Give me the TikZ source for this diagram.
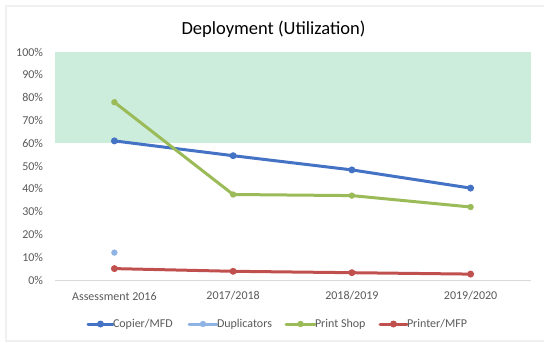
\documentclass[tikz,border=0pt]{standalone}
\usepackage{fontspec}
\setmainfont{Carlito}

\definecolor{c4472c4}{RGB}{68,114,196}
\definecolor{c8fb4e3}{RGB}{143,180,227}
\definecolor{c9bbb59}{RGB}{155,187,89}
\definecolor{cc0504d}{RGB}{192,80,77}
\definecolor{ccceddb}{RGB}{204,237,219}
\definecolor{c595959}{RGB}{89,89,89}
\definecolor{cd9d9d9}{RGB}{217,217,217}
\definecolor{cf0f0f0}{RGB}{240,240,240}

\begin{document}
\begin{tikzpicture}[y=1pt, x=1pt, yscale=-1, inner sep=0pt, outer sep=0pt,
  ticklabel/.style={text=c595959, font=\fontsize{12}{14}\selectfont},
  series/.style={line join=round, line cap=round, line width=3pt}]
\useasboundingbox (0,0) rectangle (544,343);
  % frame and target band
  \path[draw=cf0f0f0,line width=2pt] (6,6) rectangle (547,341);
  \path[fill=ccceddb] (55,52) rectangle (530.5,143.2);
  \path[draw=cd9d9d9,line width=1pt] (55,280) -- (530.5,280);
  \path (273.5,29) node (title) {\fontsize{18.5}{22}\selectfont Deployment (Utilization)};
  % value axis
  \path (43,52.0) node[left,ticklabel] (tick100) {100\%};
  \path (43,74.8) node[left,ticklabel] (tick90) {90\%};
  \path (43,97.6) node[left,ticklabel] (tick80) {80\%};
  \path (43,120.4) node[left,ticklabel] (tick70) {70\%};
  \path (43,143.2) node[left,ticklabel] (tick60) {60\%};
  \path (43,166.0) node[left,ticklabel] (tick50) {50\%};
  \path (43,188.8) node[left,ticklabel] (tick40) {40\%};
  \path (43,211.6) node[left,ticklabel] (tick30) {30\%};
  \path (43,234.4) node[left,ticklabel] (tick20) {20\%};
  \path (43,257.2) node[left,ticklabel] (tick10) {10\%};
  \path (43,280.0) node[left,ticklabel] (tick0) {0\%};
  % category axis
  \path (114.4,296) node[ticklabel] (cat2016) {Assessment 2016};
  \path (233.1,296) node[ticklabel] (cat2017) {2017/2018};
  \path (351.9,296) node[ticklabel] (cat2018) {2018/2019};
  \path (470.6,296) node[ticklabel] (cat2019) {2019/2020};
  % data points
  \coordinate (copier1) at (114.4,140.9);
  \coordinate (copier2) at (233.1,155.7);
  \coordinate (copier3) at (351.9,169.9);
  \coordinate (copier4) at (470.6,188.1);
  \coordinate (dup1) at (114.4,252.6);
  \coordinate (shop1) at (114.4,102.2);
  \coordinate (shop2) at (233.1,194.5);
  \coordinate (shop3) at (351.9,195.6);
  \coordinate (shop4) at (470.6,207.0);
  \coordinate (printer1) at (114.4,268.6);
  \coordinate (printer2) at (233.1,271.3);
  \coordinate (printer3) at (351.9,272.7);
  \coordinate (printer4) at (470.6,274.1);
  \path[draw=cc0504d,series] (printer1) -- (printer2) -- (printer3) -- (printer4);
  \path[fill=cc0504d] (printer1) circle (3.5) (printer2) circle (3.5)
    (printer3) circle (3.5) (printer4) circle (3.5);
  \path[draw=c4472c4,series] (copier1) -- (copier2) -- (copier3) -- (copier4);
  \path[fill=c4472c4] (copier1) circle (3.5) (copier2) circle (3.5)
    (copier3) circle (3.5) (copier4) circle (3.5);
  \path[draw=c9bbb59,series] (shop1) -- (shop2) -- (shop3) -- (shop4);
  \path[fill=c9bbb59] (shop1) circle (3.2) (shop2) circle (3.2)
    (shop3) circle (3.2) (shop4) circle (3.2);
  \path[fill=c8fb4e3] (dup1) circle (3.2);
  % legend
  \coordinate (keycopierA) at (88,324);
  \coordinate (keycopier) at (100.5,324);
  \coordinate (keycopierB) at (113,324);
  \coordinate (keydupA) at (189,324);
  \coordinate (keydup) at (203,324);
  \coordinate (keydupB) at (217,324);
  \coordinate (keyshopA) at (286,324);
  \coordinate (keyshop) at (300.5,324);
  \coordinate (keyshopB) at (315,324);
  \coordinate (keyprinterA) at (380,324);
  \coordinate (keyprinter) at (393.5,324);
  \coordinate (keyprinterB) at (407,324);
  \path[draw=c4472c4,series] (keycopierA) -- (keycopierB);
  \path[fill=c4472c4] (keycopier) circle (3.5);
  \path[draw=c8fb4e3,series] (keydupA) -- (keydupB);
  \path[fill=c8fb4e3] (keydup) circle (3.2);
  \path[draw=c9bbb59,series] (keyshopA) -- (keyshopB);
  \path[fill=c9bbb59] (keyshop) circle (3.2);
  \path[draw=cc0504d,series] (keyprinterA) -- (keyprinterB);
  \path[fill=cc0504d] (keyprinter) circle (3.5);
  \path (keycopierB) node[right,ticklabel] (copierlabel) {Copier/MFD};
  \path (keydupB) node[right,ticklabel] (duplabel) {Duplicators};
  \path (keyshopB) node[right,ticklabel] (shoplabel) {Print Shop};
  \path (keyprinterB) node[right,ticklabel] (printerlabel) {Printer/MFP};
\end{tikzpicture}
\end{document}
